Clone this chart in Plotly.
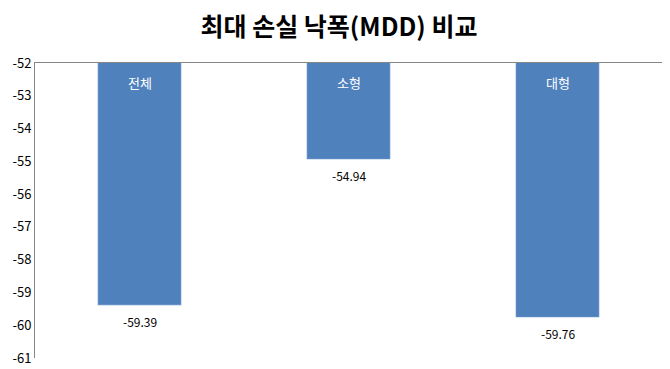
import plotly.graph_objects as go

categories = ["전체", "소형", "대형"]
mdd_values = [-59.39, -54.94, -59.76]
y_ticks = [-52, -53, -54, -55, -56, -57, -58, -59, -60, -61]

FONT = "Noto Sans CJK KR"

fig = go.Figure()
fig.add_trace(go.Bar(
    x=categories, y=mdd_values, marker_color="#4F81BD", width=0.40,
    hoverinfo="skip",
))

# category labels inside bar tops
for c in categories:
    fig.add_annotation(x=c, y=-52, text=c, showarrow=False, yanchor="top", yshift=-8,
                       font=dict(family=FONT, size=13, color="white"))
# value labels below bar ends
for c, v in zip(categories, mdd_values):
    fig.add_annotation(x=c, y=v, text=f"{v:.2f}", showarrow=False, yanchor="top", yshift=-6,
                       font=dict(family=FONT, size=12, color="black"))

fig.update_layout(
    width=662, height=361,
    margin=dict(l=27, r=8, t=55, b=11),
    paper_bgcolor="white", plot_bgcolor="white",
    showlegend=False,
    title=dict(text="<b>최대 손실 낙폭(MDD) 비교</b>", x=0.5, xanchor="center",
               y=0.947, yanchor="middle", font=dict(family=FONT, size=25, color="black")),
    xaxis=dict(side="top", showline=True, linecolor="#868686", linewidth=1,
               showticklabels=False, ticks="", showgrid=False, zeroline=False,
               automargin=False),
    yaxis=dict(range=[-61, -52], tickvals=y_ticks, ticktext=[str(t) for t in y_ticks],
               showline=True, linecolor="#868686", linewidth=1, ticks="",
               showgrid=False, zeroline=False, automargin=False,
               tickfont=dict(family=FONT, size=13, color="black")),
)

fig.write_html("out.html")
